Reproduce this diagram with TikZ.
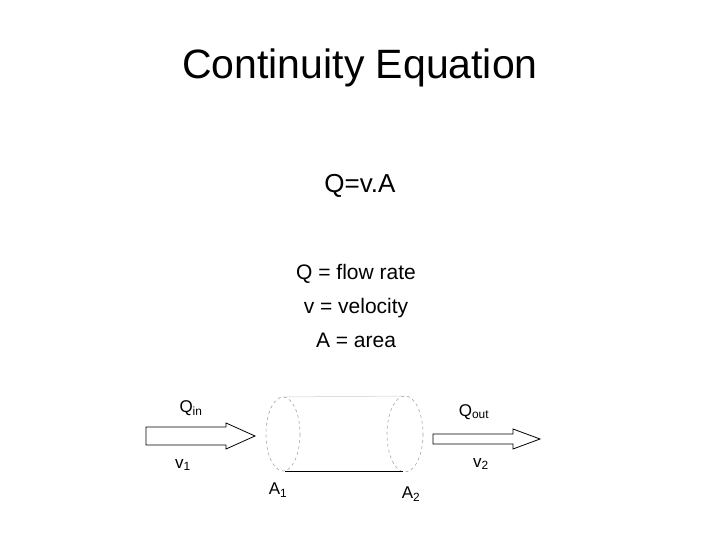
\documentclass[tikz,border=0pt]{standalone}
\usepackage{fontspec}
\setmainfont{Liberation Sans}
\begin{document}
\begin{tikzpicture}[x=1pt, y=-1pt,
    lbl/.style = {inner sep=0pt, font=\fontsize{17}{20}\selectfont},
    flowarrow/.style = {draw, fill=white, line width=0.8pt}]
  \useasboundingbox (0, 0) rectangle (720, 540);
  % headings
  \node (title) at (360, 68) {\fontsize{41}{48}\selectfont Continuity Equation};
  \node (eqn) at (360, 186) {\fontsize{26}{30}\selectfont Q=v.A};
  \node[align=center, font=\fontsize{21}{34}\selectfont] (defs) at (356, 306)
    {Q = flow rate\\ v = velocity\\ A = area};
  % the pipe
  \draw[gray!70, dashed, line width=0.6pt] (283, 434) ellipse (17 and 37);
  \draw[gray!70, dashed, line width=0.6pt] (405, 434) ellipse (18 and 38);
  \draw[gray!40, line width=0.5pt] (283, 397) -- (405, 396);
  \draw[line width=0.7pt] (285, 471) -- (403, 471);
  % arrows
  \draw[flowarrow] (146, 427) -- (226, 427) -- (226, 423) -- (255, 436)
    -- (226, 449) -- (226, 445) -- (146, 445) -- cycle;
  \draw[flowarrow] (433, 434) -- (513, 434) -- (513, 429) -- (540, 439)
    -- (513, 449) -- (513, 444) -- (433, 444) -- cycle;
  % labels
  \node[lbl] (qin) at (191, 408) {Q\textsubscript{in}};
  \node[lbl] (qout) at (474, 412) {Q\textsubscript{out}};
  \node[lbl] (v1) at (183, 465) {v\textsubscript{1}};
  \node[lbl] (v2) at (481, 464) {v\textsubscript{2}};
  \node[lbl] (a1) at (278, 490) {A\textsubscript{1}};
  \node[lbl] (a2) at (411, 494) {A\textsubscript{2}};
\end{tikzpicture}
\end{document}
